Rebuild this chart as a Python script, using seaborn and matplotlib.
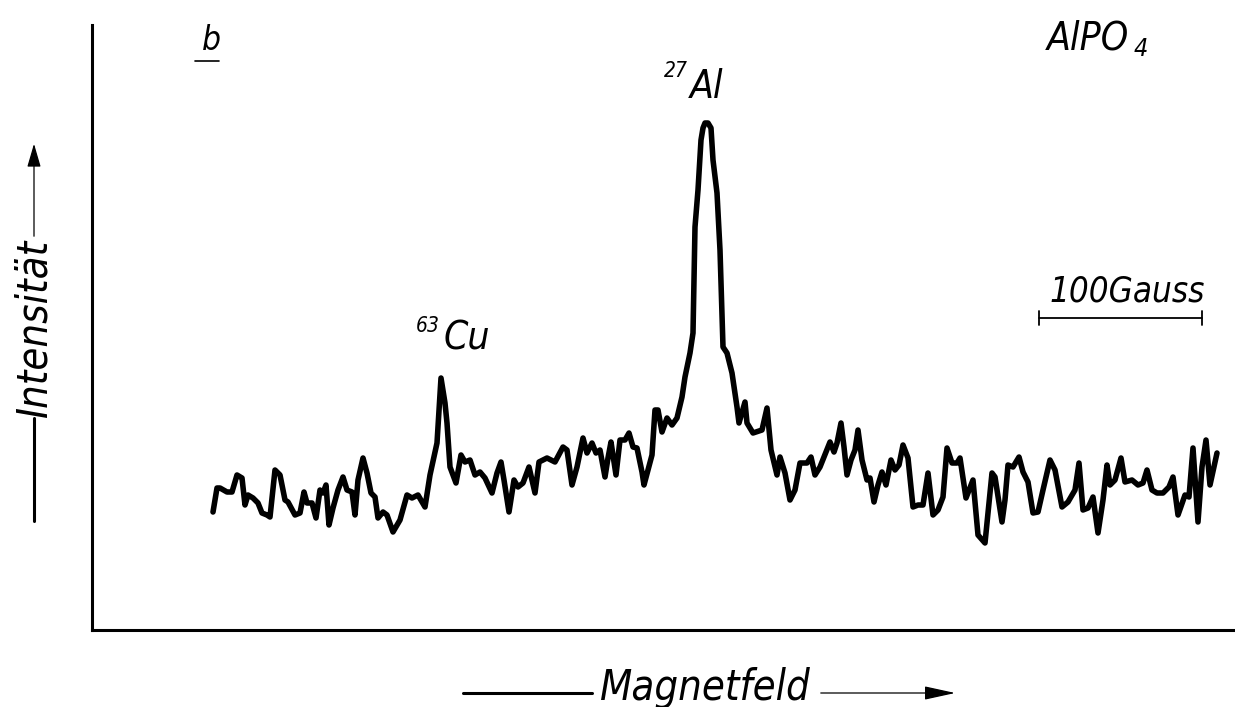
import pandas as pd
import seaborn as sns
import matplotlib.pyplot as plt
from matplotlib import font_manager

# trace (field in plot units, intensity above baseline)
field = [213, 217, 220, 227, 232, 237, 242, 245, 248, 253,
         258, 262, 267, 270, 275, 280, 285, 288, 295, 300,
         304, 307, 312, 316, 320, 323, 326, 329, 333, 338,
         343, 347, 352, 355, 358, 363, 367, 371, 375, 378,
         383, 387, 393, 400, 407, 412, 418, 425, 430, 437,
         441, 445, 447, 450, 456, 461, 465, 470, 475, 480,
         485, 492, 497, 501, 504, 509, 514, 518, 523, 529,
         535, 539, 547, 555, 563, 567, 572, 577, 583, 587,
         592, 596, 600, 605, 608, 611, 616, 620, 625, 629,
         633, 637, 642, 644, 648, 652, 655, 658, 662, 667,
         672, 677, 682, 685, 690, 693, 695, 698, 701, 703,
         705, 708, 711, 713, 717, 720, 723, 727, 732, 737,
         739, 745, 747, 753, 762, 767, 771, 777, 780, 785,
         790, 795, 800, 807, 811, 815, 820, 830, 834, 837,
         841, 844, 847, 851, 855, 858, 862, 867, 870, 874,
         878, 882, 886, 891, 895, 899, 903, 908, 913, 918,
         923, 928, 933, 938, 943, 947, 952, 957, 960, 966,
         973, 978, 985, 992, 995, 1002, 1005, 1008, 1013, 1019,
         1023, 1028, 1033, 1038, 1043, 1050, 1055, 1062, 1068, 1075,
         1079, 1083, 1088, 1093, 1098, 1103, 1107, 1110, 1115, 1121,
         1125, 1132, 1138, 1143, 1147, 1152, 1157, 1163, 1169, 1173,
         1178, 1185, 1189, 1193, 1198, 1202, 1206, 1210, 1217]
intensity = [118, 142, 142, 138, 138, 155, 152, 125, 135, 132,
             127, 117, 115, 113, 160, 155, 130, 128, 115, 117,
             138, 127, 127, 112, 140, 137, 145, 105, 122, 140,
             153, 140, 138, 115, 150, 172, 157, 137, 133, 112,
             118, 115, 98, 110, 135, 132, 135, 123, 155, 187,
             252, 227, 207, 163, 147, 175, 168, 170, 155, 158,
             152, 137, 157, 168, 150, 118, 150, 143, 147, 163,
             137, 168, 172, 168, 183, 180, 145, 163, 192, 177,
             187, 177, 180, 153, 172, 188, 155, 190, 190, 197,
             183, 182, 158, 145, 160, 175, 220, 220, 198, 212,
             205, 212, 233, 253, 277, 297, 403, 440, 490, 502,
             507, 507, 502, 470, 437, 380, 283, 277, 257, 223,
             207, 228, 207, 197, 200, 222, 180, 155, 173, 157,
             130, 140, 167, 167, 173, 155, 163, 188, 178, 187,
             207, 183, 155, 170, 180, 200, 170, 150, 152, 128,
             145, 158, 145, 170, 160, 165, 185, 172, 123, 125,
             125, 157, 115, 120, 133, 182, 167, 167, 172, 132,
             150, 95, 87, 157, 153, 108, 130, 165, 163, 173,
             158, 148, 117, 118, 140, 170, 160, 123, 128, 140,
             167, 120, 122, 133, 97, 130, 165, 145, 150, 172,
             148, 150, 145, 147, 160, 140, 137, 137, 143, 153,
             115, 135, 133, 182, 108, 163, 190, 145, 177]

peak_labels = [("63", "Cu", 428, 304, 467, 292), ("27", "Al", 676, 559, 707, 543)]
sample_name = ("AlPO", "4")
scale_text = "100Gauss"
scale_span = (1039, 1202)

sns.set_theme(style="white")
names = {f.name for f in font_manager.fontManager.ttflist}
fam = "Liberation Sans Narrow" if "Liberation Sans Narrow" in names else "DejaVu Sans"
plt.rcParams["font.family"] = [fam, "DejaVu Sans"]

df = pd.DataFrame({"field": field, "intensity": intensity})

fig = plt.figure(figsize=(12.35, 7.07), dpi=100)
ax = fig.add_axes([92 / 1235, 77 / 707, (1235 - 92) / 1235, 605 / 707])
sns.lineplot(data=df, x="field", y="intensity", ax=ax, color="black",
             lw=4.0, sort=False, estimator=None, solid_joinstyle="round")
ax.set_xlim(92, 1235)
ax.set_ylim(0, 605)
ax.set_xticks([])
ax.set_yticks([])
ax.set_xlabel("")
ax.set_ylabel("")
for s in ["top", "right"]:
    ax.spines[s].set_visible(False)
for s in ["left", "bottom"]:
    ax.spines[s].set_linewidth(2.2)
    ax.spines[s].set_color("black")

kw = dict(style="italic", stretch="condensed", weight="light", color="black",
          ha="center", va="center", clip_on=False)

# panel letter
ax.text(211, 590, "b", fontsize=24, **kw)
ax.plot([195, 219], [569, 569], color="black", lw=1.2, clip_on=False)

# peak labels
for sup, el, sx, sy, ex, ey in peak_labels:
    ax.text(sx, sy, sup, fontsize=15, **kw)
    ax.text(ex, ey, el, fontsize=28, **kw)

# sample
ax.text(1088, 592, sample_name[0], fontsize=28, **kw)
ax.text(1141, 581, sample_name[1], fontsize=18, **kw)

# scale bar
ax.text(1127, 339, scale_text, fontsize=25, **kw)
ax.plot(scale_span, [312, 312], color="black", lw=1.3, clip_on=False)
for x0 in scale_span:
    ax.plot([x0, x0], [305, 319], color="black", lw=1.3, clip_on=False)

# axis labels with arrows
ax.text(34, 302, "Intensität", fontsize=30, rotation=90, **kw)
ax.plot([34, 34], [109, 212], color="black", lw=2.2, clip_on=False)
ax.annotate("", xy=(34, 489), xytext=(34, 391), annotation_clip=False,
            arrowprops=dict(arrowstyle="-|>,head_length=1.2,head_width=0.35",
                            color="black", lw=0.9))

ax.text(705, -58, "Magnetfeld", fontsize=30, **kw)
ax.plot([463, 592], [-63, -63], color="black", lw=2.2, clip_on=False)
ax.annotate("", xy=(958, -63), xytext=(818, -63), annotation_clip=False,
            arrowprops=dict(arrowstyle="-|>,head_length=1.6,head_width=0.35",
                            color="black", lw=0.9))

fig.savefig("out.png", dpi=100, facecolor="white")
